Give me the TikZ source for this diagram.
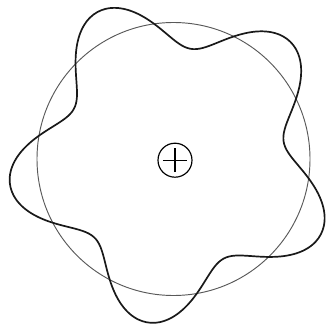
\documentclass[tikz,border=0pt]{standalone}
\usepackage{tikz}
\tikzset{
  refring/.style={line width=0.8pt, draw=black!65},
  wave/.style={line width=1.45pt, draw=black!90, line join=round},
  hub/.style={circle, draw=black, line width=1.0pt, minimum size=1.02cm, inner sep=0pt},
  cross/.style={line width=1.0pt, draw=black},
}

\begin{document}
\begin{tikzpicture}[x=0.03cm, y=0.03cm]
\useasboundingbox (0,0) rectangle (327,326);
\begin{scope}[shift={(173.5,167)}]
\draw[refring] (0,0) circle (136.5);
\draw[wave] plot[domain=0:360, samples=240, smooth cycle] (\x:{138.5+27*cos(5*(\x-45))});
\node[hub] (origin) at (1.5,-1.2) {};
\draw[cross] ([xshift=-0.36cm]origin.center) -- ([xshift=0.36cm]origin.center);
\draw[cross] ([yshift=-0.36cm]origin.center) -- ([yshift=0.36cm]origin.center);
\end{scope}
\end{tikzpicture}
\end{document}
